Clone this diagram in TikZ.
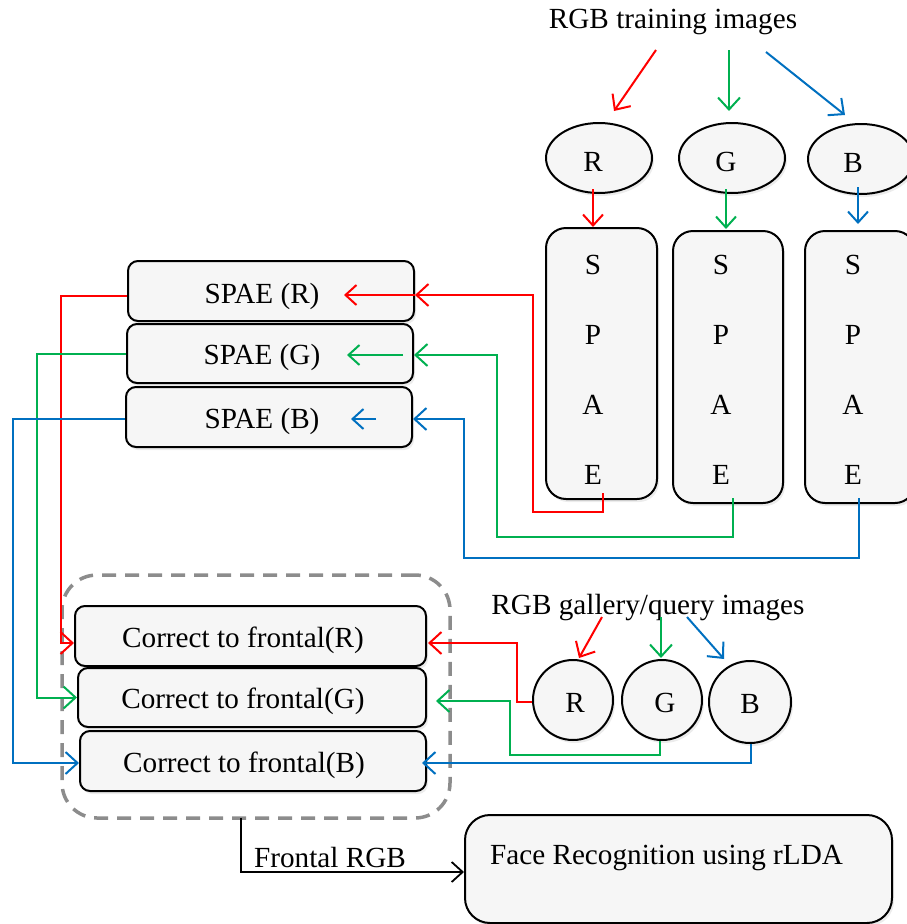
\documentclass[tikz,border=0pt]{standalone}
\usepackage{fontspec}
\setmainfont{Liberation Serif}
\usetikzlibrary{arrows.meta,shapes.geometric,shadows}
\definecolor{cred}{RGB}{255,0,0}
\definecolor{cgreen}{RGB}{0,176,80}
\definecolor{cblue}{RGB}{0,112,192}
\definecolor{boxfill}{RGB}{246,246,246}
\begin{document}
\begin{tikzpicture}[x=1pt,y=-1pt,
  every node/.style={font=\fontsize{29.2}{34}\selectfont},
  box/.style={draw=black,line width=2pt,fill=boxfill,rounded corners=10pt,inner sep=0pt,
    drop shadow={opacity=0.15,shadow xshift=2pt,shadow yshift=-3pt}},
  colbox/.style={box,rounded corners=20pt,minimum width=110pt,minimum height=272pt},
  spaebox/.style={box,minimum width=286pt,minimum height=60pt},
  corrbox/.style={box,minimum height=60pt},
  oval/.style={box,ellipse,minimum width=106pt,minimum height=70pt},
  disc/.style={box,circle,minimum size=80pt},
  groupbox/.style={draw=black!45,line width=3.5pt,dash pattern=on 14pt off 9pt,
    rounded corners=35pt,inner sep=0pt},
  wire/.style={line width=2pt},
  tip/.style={-{Straight Barb[length=12pt,width=22pt,line width=2pt]}},
  smalltip/.style={-{Straight Barb[length=11pt,width=20pt,line width=2pt]}},
  letters/.style={align=center,font=\fontsize{29.2}{70}\selectfont},
]
\useasboundingbox (0,0) rectangle (906,924);

% ---- training branch ----
\node (ttl) at (673,22) {RGB training images};
\node[oval,label={[xshift=-6pt,yshift=-4pt]center:R}] (eR) at (599,158) {};
\node[oval,label={[xshift=-6pt,yshift=-4pt]center:G}] (eG) at (732,158) {};
\node[oval,label={[xshift=-8pt,yshift=-4pt]center:B}] (eB) at (861,159) {};

\node[colbox,minimum width=111pt,minimum height=271pt,
  label={[letters,xshift=-8.5pt,yshift=-6.5pt]center:S\\P\\A\\E}] (cR) at (601.5,363.5) {};
\node[colbox,label={[letters,xshift=-7pt,yshift=-3pt]center:S\\P\\A\\E}] (cG) at (728,367) {};
\node[colbox,label={[letters,xshift=-7pt,yshift=-3pt]center:S\\P\\A\\E}] (cB) at (860,367) {};

\coordinate (t1) at (656,50);
\coordinate (t2) at (729,50);
\coordinate (t3) at (766,52);
\draw[wire,cred,tip] (t1) -- ([xshift=15pt,yshift=11pt]eR.north);
\draw[wire,cgreen,tip] (t2) -- ([xshift=-3pt,yshift=11pt]eG.north);
\draw[wire,cblue,tip] (t3) -- ([xshift=-16pt,yshift=8pt]eB.north);

\draw[wire,cred,smalltip] ([xshift=-6pt,yshift=5pt]eR.south) -- ([xshift=-8.5pt]cR.north);
\draw[wire,cgreen,smalltip] ([xshift=-6pt,yshift=5pt]eG.south) -- ([xshift=-2pt,yshift=1pt]cG.north);
\draw[wire,cblue,smalltip] ([xshift=-3pt,yshift=8pt]eB.south) -- ([xshift=-2pt,yshift=6pt]cB.north);

% ---- SPAE models ----
\node[spaebox,label={[xshift=-9pt,yshift=-5pt]center:SPAE (R)}] (sR) at (271,291) {};
\node[spaebox,minimum height=59pt,label={[xshift=-8pt,yshift=-4pt]center:SPAE (G)}] (sG) at (270,353.5) {};
\node[spaebox,label={[xshift=-7pt,yshift=-4pt]center:SPAE (B)}] (sB) at (269,417) {};

\draw[wire,cred,tip] ([xshift=1.5pt,yshift=7pt]cR.south) -- ++(0,19) -- ++(-70,0) |- ([yshift=-4pt]sR.east);
\draw[wire,cred,smalltip] ([yshift=-4pt]sR.east) -- ++(-71,0);
\draw[wire,cgreen,tip] ([xshift=5pt,yshift=6pt]cG.south) -- ++(0,39) -- ++(-236,0) |- ([yshift=-1.5pt]sG.east);
\draw[wire,cgreen,smalltip] ([xshift=-11pt,yshift=-1.5pt]sG.east) -- ++(-56,0);
\draw[wire,cblue,tip] ([xshift=-1pt,yshift=6pt]cB.south) -- ++(0,60) -- ++(-395,0) |- ([yshift=-2pt]sB.east);
\draw[wire,cblue,smalltip] ([xshift=-37pt,yshift=-2pt]sB.east) -- ++(-25,0);

% ---- frontal correction ----
\node[groupbox] (grp) at (256,696.5) [minimum width=388pt,minimum height=243pt] {};
\node[corrbox,minimum width=351pt,label={[xshift=-7.5pt,yshift=-4pt]center:Correct to frontal(R)}] (cfR) at (250.5,636) {};
\node[corrbox,minimum width=348pt,minimum height=59pt,label={[xshift=-9pt,yshift=-4pt]center:Correct to frontal(G)}] (cfG) at (252,697.5) {};
\node[corrbox,minimum width=346pt,label={[xshift=-9pt,yshift=-4pt]center:Correct to frontal(B)}] (cfB) at (253,761) {};

\draw[wire,cred,tip] ([yshift=-5pt]sR.west) -- ++(-66,0) |- ([yshift=-7pt]cfR.west);
\draw[wire,cgreen,tip] (sG.west) -- ++(-89,0) |- (cfG.west);
\draw[wire,cblue,tip] ([yshift=-2pt]sB.west) -- ++(-112,0) |- ([yshift=-2pt]cfB.west);

% ---- gallery / query branch ----
\node (gq) at (648,608) {RGB gallery/query images};
\node[disc,label={[xshift=2pt,yshift=-3pt]center:R}] (gR) at (573,700) {};
\node[disc,label={[xshift=3pt,yshift=-3pt]center:G}] (gG) at (662,700) {};
\node[disc,minimum size=82pt,label={[yshift=-2pt]center:B}] (gB) at (750,702) {};

\coordinate (q1) at (602,617);
\coordinate (q2) at (661,617);
\coordinate (q3) at (687,617);
\draw[wire,cred,tip] (q1) -- ([xshift=6pt,yshift=1pt]gR.north);
\draw[wire,cgreen,tip] (q2) -- ([xshift=-1pt,yshift=1pt]gG.north);
\draw[wire,cblue,tip] (q3) -- ([xshift=-26pt,yshift=1pt]gB.north);

\draw[wire,cred,tip] ([yshift=-2pt]gR.west) -- ++(-15,0) |- ([xshift=1pt,yshift=-7pt]cfR.east);
\draw[wire,cgreen,tip] ([xshift=-2pt]gG.south) -- ++(0,14) -- ++(-150,0) |- ([xshift=9pt,yshift=-3.5pt]cfG.east);
\draw[wire,cblue,tip] ([xshift=1pt]gB.south) |- ([xshift=-5pt,yshift=-2pt]cfB.east);

% ---- recognition ----
\node[box,rounded corners=25pt,minimum width=427pt,minimum height=108pt,
  label={[xshift=-12pt,yshift=11pt]center:Face Recognition using rLDA}] (face) at (678.5,869) {};
\coordinate (fr) at ([xshift=-15pt,yshift=2pt]grp.south);
\draw[line width=1.8pt,-{Straight Barb[length=11pt,width=20pt,line width=1.8pt]}]
  (fr) |- ([yshift=-3pt]face.west);
\node at (330,858) {Frontal RGB};
\end{tikzpicture}
\end{document}
